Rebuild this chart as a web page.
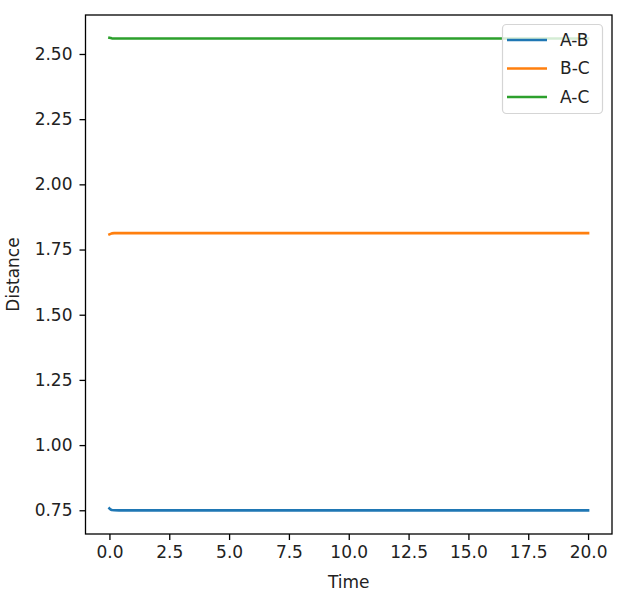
<!DOCTYPE html>
<html>
<head>
<meta charset="utf-8">
<script src="https://cdn.jsdelivr.net/npm/d3@7"></script>
<style>
	body { margin: 0; background: #fff; }
	text { font-family: "DejaVu Sans", sans-serif; }
</style>
</head>
<body>
<script>
	// данные
	const times = [0, 0.05, 0.1, 0.2, 0.4, 1, 5, 10, 15, 20];
	const distAB = [0.757, 0.753, 0.751, 0.750, 0.7495, 0.7495, 0.7495, 0.7495, 0.7495, 0.7495];
	const distBC = [1.808, 1.810, 1.812, 1.813, 1.813, 1.813, 1.813, 1.813, 1.813, 1.813];
	const distAC = [2.562, 2.561, 2.560, 2.5595, 2.5595, 2.5595, 2.5595, 2.5595, 2.5595, 2.5595];
	const seriesNames = ["A-B", "B-C", "A-C"];
	const xTicks = [0, 2.5, 5, 7.5, 10, 12.5, 15, 17.5, 20];
	const yTicks = [0.75, 1.0, 1.25, 1.5, 1.75, 2.0, 2.25, 2.5];

	const colors = ["#1f77b4", "#ff7f0e", "#2ca02c"];
	const series = [distAB, distBC, distAC];

	const w = 623,
		h = 599,
		margin = { top: 15, right: 11, bottom: 65, left: 85.5 };

	const svg = d3
		.select("body")
		.append("svg")
		.attr("width", w)
		.attr("height", h);

	// шкалы
	const xScale = d3
			.scaleLinear()
			.domain([-1, 21])
			.range([margin.left, w - margin.right]),
		yScale = d3
			.scaleLinear()
			.domain([0.659, 2.6495])
			.range([h - margin.bottom, margin.top]);

	// линии
	const line = d3
		.line()
		.x((d, i) => xScale(times[i]))
		.y(d => yScale(d));

	svg
		.selectAll("path.series")
		.data(series)
		.enter()
		.append("path")
		.attr("class", "series")
		.attr("d", line)
		.attr("fill", "none")
		.attr("stroke", (d, i) => colors[i])
		.attr("stroke-width", 2.6)
		.attr("stroke-linejoin", "round")
		.attr("stroke-linecap", "square");

	// оси
	const xAxis = svg
		.append("g")
		.attr("transform", `translate(0,${h - margin.bottom})`)
		.call(
			d3
				.axisBottom(xScale)
				.tickValues(xTicks)
				.tickFormat(d3.format(".1f"))
				.tickSize(6)
				.tickPadding(6)
		);

	const yAxis = svg
		.append("g")
		.attr("transform", `translate(${margin.left},0)`)
		.call(
			d3
				.axisLeft(yScale)
				.tickValues(yTicks)
				.tickFormat(d3.format(".2f"))
				.tickSize(6)
				.tickPadding(7)
		);

	[xAxis, yAxis].forEach(ax => {
		ax.select(".domain").remove();
		ax.selectAll("line").attr("stroke", "#000").attr("stroke-width", 1.3);
		ax.selectAll("text")
			.attr("fill", "#222")
			.style("font-size", "17px")
			.style("font-family", "'DejaVu Sans', sans-serif");
	});

	// рамка
	svg
		.append("rect")
		.attr("x", margin.left)
		.attr("y", margin.top)
		.attr("width", w - margin.right - margin.left)
		.attr("height", h - margin.bottom - margin.top)
		.attr("fill", "none")
		.attr("stroke", "#000")
		.attr("stroke-width", 1.3);

	// подписи осей
	svg
		.append("text")
		.attr("x", (margin.left + w - margin.right) / 2)
		.attr("y", 588)
		.attr("text-anchor", "middle")
		.attr("font-size", "17px")
		.attr("fill", "#222")
		.text("Time");

	svg
		.append("text")
		.attr("transform", `translate(19,${(margin.top + h - margin.bottom) / 2}) rotate(-90)`)
		.attr("text-anchor", "middle")
		.attr("font-size", "17px")
		.attr("fill", "#222")
		.text("Distance");

	// легенда
	const legend = svg.append("g");

	legend
		.append("rect")
		.attr("x", 502.5)
		.attr("y", 24.5)
		.attr("width", 100)
		.attr("height", 89)
		.attr("rx", 4)
		.attr("fill", "rgba(255,255,255,0.8)")
		.attr("stroke", "#d5d5d5")
		.attr("stroke-width", 1.2);

	const items = legend
		.selectAll("g.item")
		.data(seriesNames)
		.enter()
		.append("g")
		.attr("class", "item")
		.attr("transform", (d, i) => `translate(0,${40 + i * 28.5})`);

	items
		.append("line")
		.attr("x1", 507)
		.attr("x2", 547)
		.attr("stroke", (d, i) => colors[i])
		.attr("stroke-width", 2.6);

	items
		.append("text")
		.attr("x", 560)
		.attr("dy", "0.35em")
		.attr("font-size", "17px")
		.attr("fill", "#222")
		.text(d => d);
</script>
</body>
</html>
